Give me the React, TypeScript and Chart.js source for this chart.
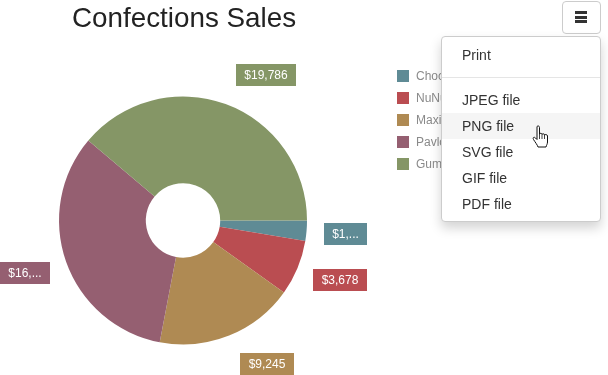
import React, { useEffect, useRef } from "react";
import { Chart, registerables } from "chart.js";

Chart.register(...registerables);

const categories = ["Chocolade", "NuNuCa Nuß-Nougat-Creme", "Maxilaku", "Pavlova", "Gumbär Gummibärchen"];
const sales = [1350, 3678, 9245, 16900, 19786];
const valueLabels = ["$1,...", "$3,678", "$9,245", "$16,...", "$19,786"];
const colors = ["#5f8b95", "#ba4d51", "#af8a53", "#955f71", "#859666"];
const chartTitle = "Confections Sales";
const menuTop = ["Print"];
const menuBottom = ["JPEG file", "PNG file", "SVG file", "GIF file", "PDF file"];
const FONT = '"Liberation Sans", Arial, sans-serif';

const decorations = {
  id: "decorations",
  afterDatasetsDraw(chart: any) {
    const { ctx } = chart;
    const meta = chart.getDatasetMeta(0);
    ctx.save();
    ctx.textBaseline = "middle";

    ctx.font = `27.8px ${FONT}`;
    ctx.fillStyle = "#222222";
    ctx.textAlign = "left";
    ctx.fillText(chartTitle, 72, 19);

    ctx.font = `12px ${FONT}`;
    chart.data.labels.forEach((label: string, i: number) => {
      ctx.fillStyle = colors[i];
      ctx.fillRect(397, 70 + i * 22, 12, 12);
      ctx.fillStyle = "#8a8a8a";
      ctx.textAlign = "left";
      ctx.fillText(label, 416, 76.5 + i * 22);
    });

    meta.data.forEach((arc: any, i: number) => {
      const mid = (arc.startAngle + arc.endAngle) / 2;
      const ax = arc.x + Math.cos(mid) * (arc.outerRadius + 31);
      const ay = arc.y + Math.sin(mid) * (arc.outerRadius + 31);
      const text = valueLabels[i];
      const w = Math.ceil(ctx.measureText(text).width + 16.3);
      let left = Math.cos(mid) >= 0 ? ax : ax - w;
      left = Math.floor(Math.max(0, Math.min(367 - w, left)));
      const top = Math.min(353, Math.round(ay - 10.6));
      ctx.fillStyle = colors[i];
      ctx.fillRect(left, top, w, 22);
      ctx.fillStyle = "#ffffff";
      ctx.textAlign = "center";
      ctx.fillText(text, left + w / 2, top + 11.5);
    });
    ctx.restore();
  },
};

const itemStyle: React.CSSProperties = {
  height: 26,
  lineHeight: "26px",
  paddingLeft: 20,
  whiteSpace: "nowrap",
};

export default function App() {
  const ref = useRef<HTMLCanvasElement>(null);
  useEffect(() => {
    const chart = new Chart(ref.current!, {
      type: "doughnut",
      data: {
        labels: categories,
        datasets: [{ data: sales, backgroundColor: colors, borderWidth: 0 }],
      },
      options: {
        animation: false,
        responsive: false,
        rotation: 90,
        cutout: "30%",
        layout: { padding: { left: 59, right: 301, top: 96.5, bottom: 30.5 } },
        plugins: { legend: { display: false }, tooltip: { enabled: false }, title: { display: false } },
      },
      plugins: [decorations],
    });
    return () => chart.destroy();
  }, []);

  return (
    <div style={{ position: "fixed", left: 0, top: 0, width: 608, height: 375, overflow: "hidden", background: "#fff", fontFamily: FONT }}>
      <canvas ref={ref} width={608} height={375} style={{ position: "absolute", left: 0, top: 0 }} />
      <div style={{ position: "absolute", left: 562, top: 1, width: 37, height: 31, border: "1px solid #cccccc", borderRadius: 4, background: "#fff" }}>
        {[0, 1, 2].map((b) => (
          <div key={b} style={{ position: "absolute", left: 12, top: 9 + b * 4.5, width: 12, height: 3, background: "#333" }} />
        ))}
      </div>
      <div style={{ position: "absolute", left: 441, top: 36, width: 158, height: 184, border: "1px solid #cccccc", borderRadius: 4, background: "#fff", boxShadow: "0 6px 12px rgba(0,0,0,0.175)", fontSize: 14, color: "#333333" }}>
        <div style={{ paddingTop: 5 }}>
          {menuTop.map((t) => (
            <div key={t} style={itemStyle}>{t}</div>
          ))}
        </div>
        <div style={{ height: 1, background: "#e5e5e5", margin: "9px 0 9px" }} />
        {menuBottom.map((t, i) => (
          <div key={t} style={{ ...itemStyle, background: i === 1 ? "#f5f5f5" : "transparent" }}>{t}</div>
        ))}
      </div>
      <svg width="18" height="24" viewBox="0 0 18 24" style={{ position: "absolute", left: 532, top: 125 }}>
        <path d="M5 1.5 C6 0.5 7.5 1 7.5 2.5 L7.5 9 C8 8 10 8 10 9.5 C10.5 8.5 12.5 8.5 12.5 10 C13 9.2 15.5 9.4 15.5 11 L15.5 17 C15.5 19 14.5 20 14 22 L6 22 C5.5 20 3 17 1.5 14.5 C0.5 12.5 2 11.5 3.5 13 L5 14.5 Z" fill="#fff" stroke="#111" strokeWidth="1" />
        <path d="M7.5 9 V14 M10 9.5 V14 M12.5 10 V14" stroke="#111" strokeWidth="0.8" fill="none" />
      </svg>
    </div>
  );
}
